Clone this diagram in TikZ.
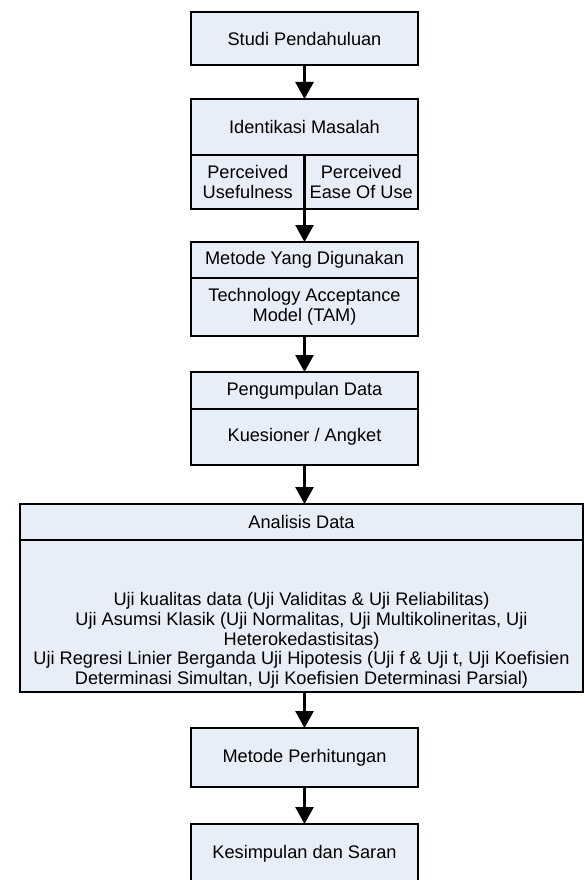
\documentclass[tikz,border=0pt]{standalone}
\usepackage{fontspec}
\setmainfont{Liberation Sans}
\usetikzlibrary{arrows.meta}
\definecolor{boxfill}{RGB}{232,238,247}

\begin{document}
\begin{tikzpicture}[x=1pt, y=-1pt, font=\fontsize{18.2}{19.7}\selectfont,
box/.style={draw, fill=boxfill, line width=2.4pt, minimum width=227pt,
    inner sep=0pt, outer sep=0pt, align=center, anchor=north},
wide/.style={box, minimum width=563pt},
half/.style={box, minimum width=113.5pt},
arrow/.style={line width=2.6pt, -{Triangle[width=18pt,length=17pt]}}]
\useasboundingbox (0,0) rectangle (585,880);
% boxes, top to bottom
\node[box, minimum height=53pt] (studi) at (304.5,12) {Studi Pendahuluan};
\node[box, minimum height=56pt] (identifikasi) at (304.5,99) {Identikasi Masalah};
\node[half, minimum height=54pt] (useful) at (247.75,155) {Perceived\\Usefulness};
\node[half, minimum height=54pt] (ease) at (361.25,155) {Perceived\\Ease Of Use};
\node[box, minimum height=36pt] (metode) at (304.5,242) {Metode Yang Digunakan};
\node[box, minimum height=58pt] (tam) at (304.5,278) {Technology Acceptance\\Model (TAM)};
\node[box, minimum height=37pt] (kumpul) at (304.5,372) {Pengumpulan Data};
\node[box, minimum height=56pt] (kuesioner) at (304.5,409) {Kuesioner / Angket};
\node[wide, minimum height=36pt] (analisis) at (301.5,504) {Analisis Data};
\node[wide, minimum height=152pt] (anbody) at (301.5,540) {};
\node[align=center] (antext) at (301.5,640.5) {Uji kualitas data (Uji Validitas \& Uji Reliabilitas)\\
Uji Asumsi Klasik (Uji Normalitas, Uji Multikolineritas, Uji\\
Heterokedastisitas)\\
Uji Regresi Linier Berganda Uji Hipotesis (Uji f \& Uji t, Uji Koefisien\\
Determinasi Simultan, Uji Koefisien Determinasi Parsial)};
\node[box, minimum height=59pt] (hitung) at (304.5,728) {Metode Perhitungan};
\node[box, minimum height=59pt] (simpul) at (304.5,824) {Kesimpulan dan Saran};
% arrows
\draw[arrow] (studi) -- (identifikasi);
\draw[arrow] (useful.south east) -- (metode.north);
\draw[arrow] (tam) -- (kumpul);
\draw[arrow] (kuesioner.south) -- (kuesioner.south |- analisis.north);
\draw[arrow] (hitung.north |- anbody.south) -- (hitung.north);
\draw[arrow] (hitung) -- (simpul);
\end{tikzpicture}
\end{document}
